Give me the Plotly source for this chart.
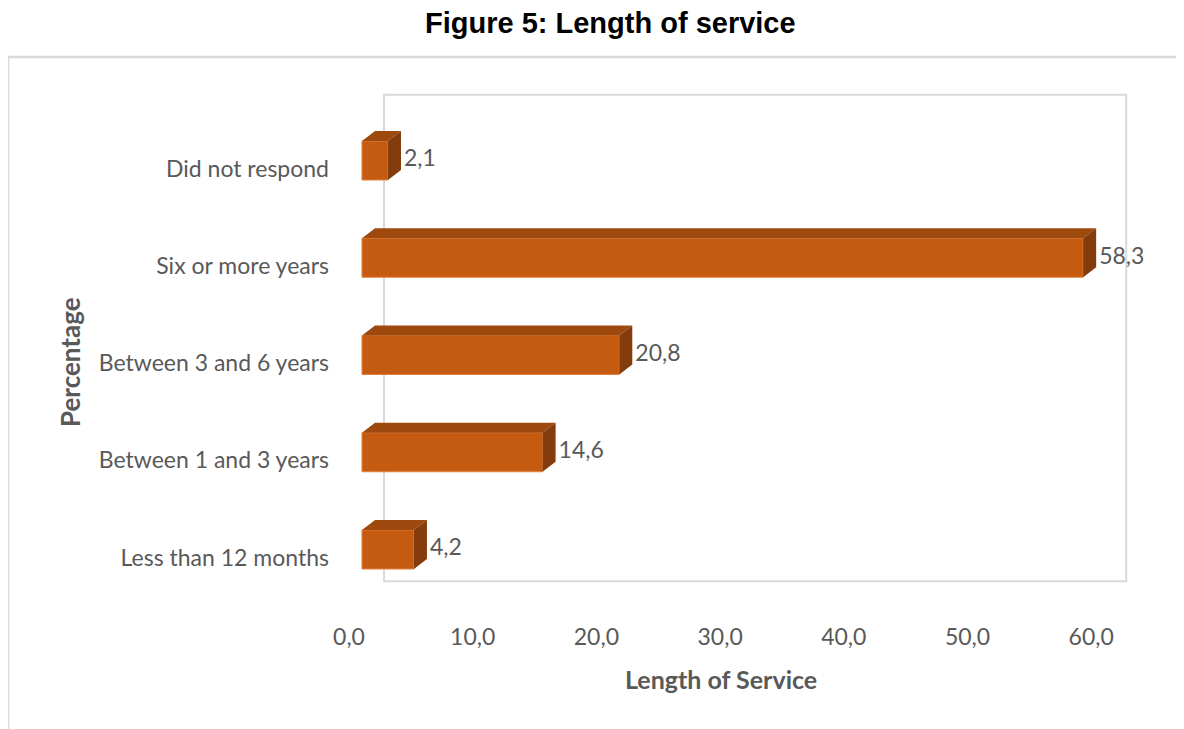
import plotly.graph_objects as go

# ---- data ----
categories = ["Less than 12 months", "Between 1 and 3 years", "Between 3 and 6 years",
              "Six or more years", "Did not respond"]
values = [4.2, 14.6, 20.8, 58.3, 2.1]
x_ticks = [0, 10, 20, 30, 40, 50, 60]

# ---- style / geometry constants ----
W, H = 1184, 729
OFF = 8           # page body margin
FONT = "Lato"
TXT = "#595959"
FRONT = "#C55A11"
TOP = "#9E4A0F"
SIDE = "#843C0C"
PX_X = 12.37      # px per x unit
PX_Y = 97.25      # px per category
X0_PX = 362 - OFF  # pixel of x=0 (front plane)
Y0_PX = 549.5 - OFF  # pixel of first category centre
BAR_W = 39 / PX_Y
BAR_DX = 13 / PX_X
BAR_DY = 10 / PX_Y
WALL_DX = 22 / PX_X
WALL_DY = 17 / PX_Y
LAB_DX = 13 / PX_X    # x tick labels shift (left)
LAB_DY = 8 / PX_Y     # category labels shift (down)
TXT_PAD = 3 / PX_X


def px(x):
    return (x - OFF) / W


def py(y):
    return 1 - (y - OFF) / H


xr = [-X0_PX / PX_X, (W - X0_PX) / PX_X]
yr = [(Y0_PX - H) / PX_Y, Y0_PX / PX_Y]

idx = list(range(len(categories)))

fig = go.Figure()

# front faces
fig.add_trace(go.Bar(x=values, y=idx, orientation="h", width=BAR_W,
                     marker=dict(color=FRONT, line=dict(color="#E2803F", width=1)),
                     hoverinfo="skip", showlegend=False))

# top and side faces
tx, ty, sx, sy = [], [], [], []
for i, v in zip(idx, values):
    t = i + BAR_W / 2
    b = i - BAR_W / 2
    tx += [0, v, v + BAR_DX, BAR_DX, 0, None]
    ty += [t, t, t + BAR_DY, t + BAR_DY, t, None]
    sx += [v, v + BAR_DX, v + BAR_DX, v, v, None]
    sy += [t, t + BAR_DY, b + BAR_DY, b, t, None]
fig.add_trace(go.Scatter(x=tx, y=ty, fill="toself", fillcolor=TOP, mode="lines",
                         line=dict(width=0, color=TOP), hoverinfo="skip", showlegend=False))
fig.add_trace(go.Scatter(x=sx, y=sy, fill="toself", fillcolor=SIDE, mode="lines",
                         line=dict(width=0, color=SIDE), hoverinfo="skip", showlegend=False))

# data labels
fig.add_trace(go.Scatter(x=[v + BAR_DX + TXT_PAD for v in values], y=idx, mode="text",
                         text=[f"{v:.1f}".replace(".", ",") for v in values],
                         textposition="middle right",
                         textfont=dict(family=FONT, size=23, color=TXT),
                         hoverinfo="skip", showlegend=False))

# invisible trace for label axes
fig.add_trace(go.Scatter(x=[None], y=[None], xaxis="x2", yaxis="y2", showlegend=False))

fig.update_layout(
    width=W, height=H,
    margin=dict(l=0, r=0, t=0, b=0),
    paper_bgcolor="white", plot_bgcolor="rgba(0,0,0,0)",
    separators=",.",
    showlegend=False,
    xaxis=dict(domain=[0, 1], range=xr, showgrid=False, zeroline=False,
               showticklabels=False, showline=False),
    yaxis=dict(domain=[0, 1], range=yr, showgrid=False, zeroline=False,
               showticklabels=False, showline=False),
    xaxis2=dict(overlaying="x", anchor="free", position=py(621),
                range=[xr[0] + LAB_DX, xr[1] + LAB_DX],
                tickvals=x_ticks, tickformat=".1f", showgrid=False, zeroline=False,
                showline=False, ticks="",
                tickfont=dict(family=FONT, size=23, color=TXT)),
    yaxis2=dict(overlaying="y", anchor="free", position=px(329),
                range=[yr[0] + LAB_DY, yr[1] + LAB_DY],
                tickvals=idx, ticktext=categories, showgrid=False, zeroline=False,
                showline=False, ticks="",
                tickfont=dict(family=FONT, size=23, color=TXT)),
    shapes=[
        dict(type="rect", xref="x", yref="y", layer="below",
             x0=0 + WALL_DX, x1=60 + WALL_DX, y0=-0.5 + WALL_DY, y1=4.5 + WALL_DY,
             line=dict(color="#D9D9D9", width=2)),
        dict(type="rect", xref="paper", yref="paper",
             x0=px(8), x1=1.05, y0=-0.05, y1=py(57),
             line=dict(color="#D9D9D9", width=2.5)),
    ],
    annotations=[
        dict(text="<b>Figure 5: Length of service</b>", xref="paper", yref="paper",
             x=px(610), y=py(23), showarrow=False, xanchor="center", yanchor="middle",
             font=dict(family="Liberation Sans", size=29, color="black")),
        dict(text="<b>Length of Service</b>", xref="paper", yref="paper",
             x=px(721), y=py(679), showarrow=False, xanchor="center", yanchor="middle",
             font=dict(family=FONT, size=25, color=TXT)),
        dict(text="<b>Percentage</b>", xref="paper", yref="paper", textangle=-90,
             x=px(70), y=py(362), showarrow=False, xanchor="center", yanchor="middle",
             font=dict(family=FONT, size=26, color=TXT)),
    ],
)

fig.write_html("out.html")
